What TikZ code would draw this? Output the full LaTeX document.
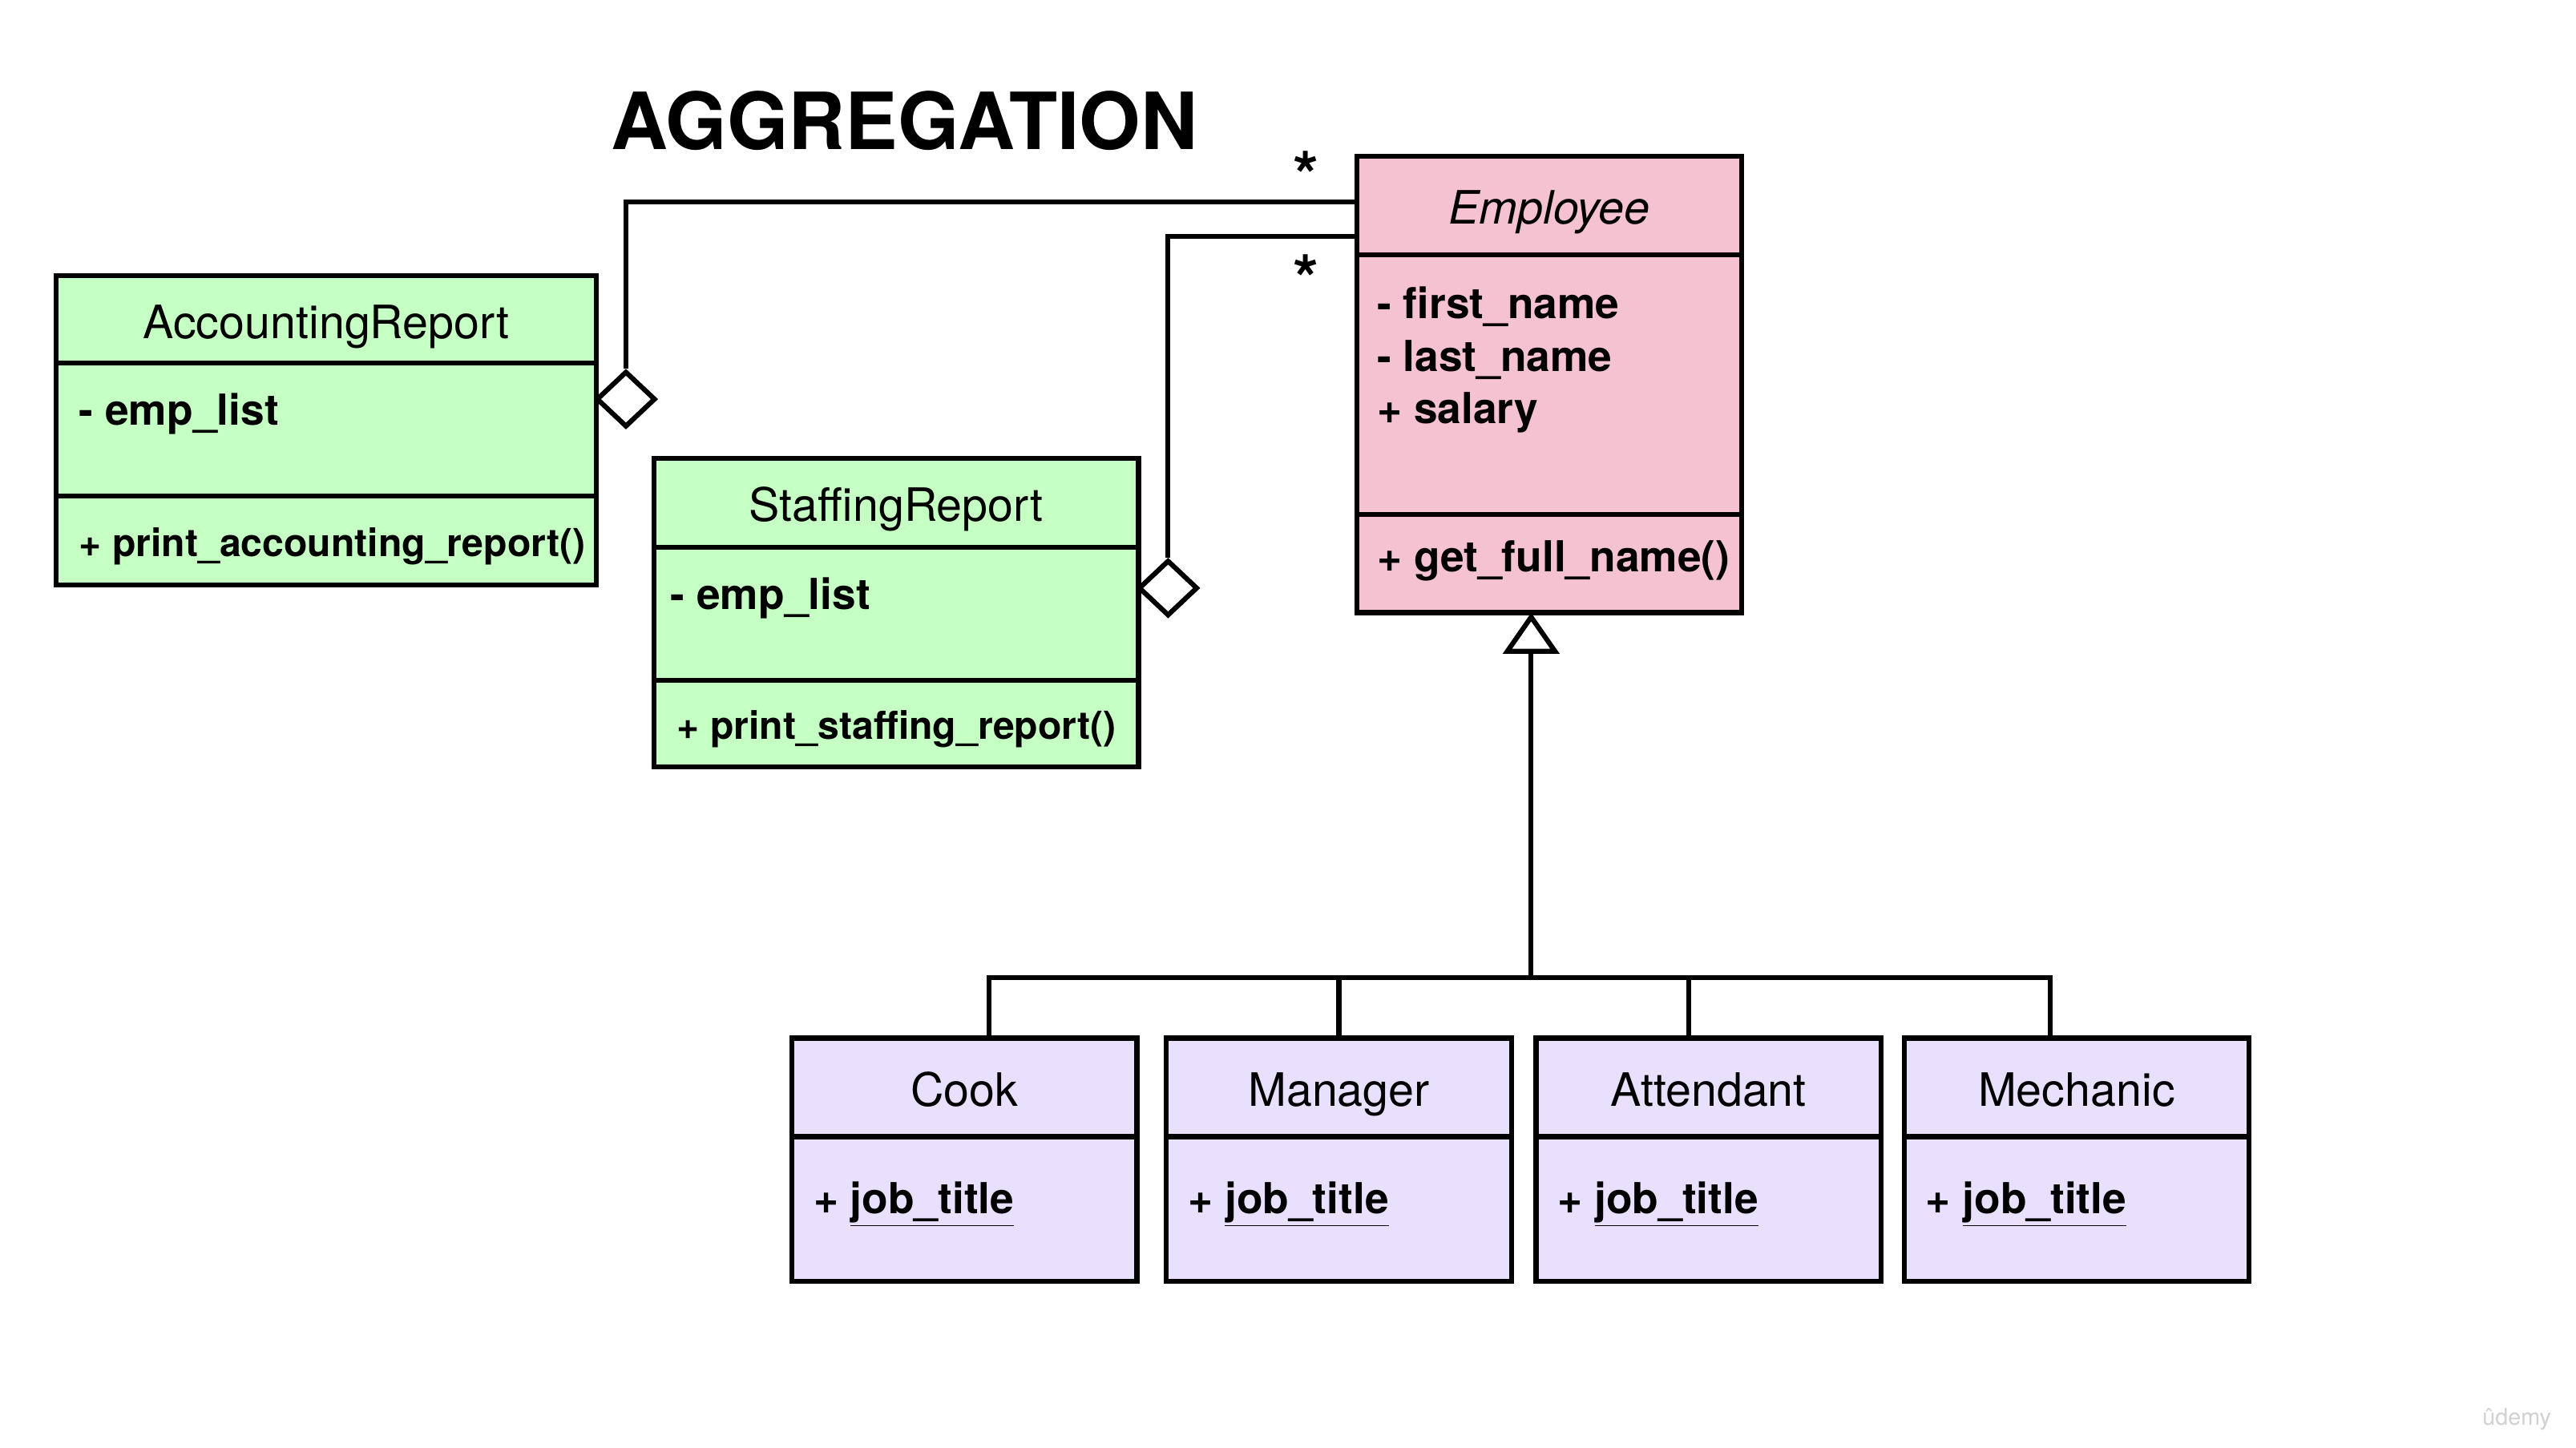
\documentclass[tikz,border=0pt]{standalone}
\usepackage{fontspec}
\setmainfont{TeX Gyre Heros}
\usetikzlibrary{positioning,shapes.geometric,arrows.meta}
\definecolor{reportgreen}{RGB}{198,255,196}
\definecolor{employeepink}{RGB}{244,194,208}
\definecolor{jobviolet}{RGB}{232,224,252}

\begin{document}
\begin{tikzpicture}[x=1pt,y=-1pt,
		box/.style={draw, line width=3pt, outer sep=0pt, inner sep=0pt},
		report/.style={box, fill=reportgreen},
		emp/.style={box, fill=employeepink},
		job/.style={box, fill=jobviolet},
		head/.style={text height=26pt, text depth=3pt, font=\fontsize{28}{34}\selectfont},
		attr/.style={anchor=base west, inner sep=0pt, font=\fontsize{26}{32}\selectfont\bfseries},
		op/.style={attr, font=\fontsize{23.5}{28}\selectfont\bfseries},
		mult/.style={anchor=base, inner sep=0pt, font=\fontsize{40}{40}\selectfont\bfseries},
		agg/.style={diamond, draw, fill=white, line width=3pt, inner sep=0pt, minimum width=36pt, minimum height=34pt},
		conn/.style={draw, line width=3pt}
	]
	\path[fill=white, use as bounding box] (0,0) rectangle (1568,881.1);

	\node[anchor=base west, inner sep=0pt, font=\fontsize{48}{56}\selectfont\bfseries] (title) at (372,91) {AGGREGATION};

	% AccountingReport
	\node[report, head, minimum width=329pt, minimum height=53pt, anchor=north west] (acc) at (34,168) {AccountingReport};
	\node[report, minimum width=329pt, minimum height=81pt, below=0pt of acc] (acc-attr) {};
	\node[report, minimum width=329pt, minimum height=54pt, below=0pt of acc-attr] (acc-op) {};
	\node[attr] (acc-list) at (48,259) {- emp\_list};
	\node[op] (acc-print) at (48,339) {+ print\_accounting\_report()};

	% StaffingReport
	\node[report, head, minimum width=295pt, minimum height=54pt, anchor=north west] (staff) at (398,279) {StaffingReport};
	\node[report, minimum width=295pt, minimum height=81pt, below=0pt of staff] (staff-attr) {};
	\node[report, minimum width=295pt, minimum height=53pt, below=0pt of staff-attr] (staff-op) {};
	\node[attr] (staff-list) at (408,371) {- emp\_list};
	\node[op] (staff-print) at (412,450) {+ print\_staffing\_report()};

	% Employee
	\node[emp, head, font=\fontsize{28}{34}\selectfont\itshape, minimum width=234pt, minimum height=60pt, anchor=north west] (emp) at (826,95) {Employee};
	\node[emp, minimum width=234pt, minimum height=158pt, below=0pt of emp] (emp-attr) {};
	\node[emp, minimum width=234pt, minimum height=60pt, below=0pt of emp-attr] (emp-op) {};
	\foreach \txt [count=\i] in {- first\_name, - last\_name, + salary}
		\node[attr] (emp-field\i) at (838,162+32*\i) {\txt};
	\node[attr] (emp-name) at (838,348) {+ get\_full\_name()};

	% aggregation
	\node[agg] (acc-agg) at (381,243) {};
	\node[agg] (staff-agg) at (711,358) {};
	\draw[conn] ([yshift=2pt]emp.west) -| (acc-agg.north);
	\draw[conn] ([yshift=11pt]emp.south west) -| (staff-agg.north);
	\node[mult] (acc-mult) at (795,121) {*};
	\node[mult] (staff-mult) at (795,184) {*};

	% subclasses
	\coordinate (hub) at (932,595);
	\draw[conn, -{Triangle[open, width=34pt, length=25pt]}] (hub) -- (hub |- emp-op.south);
	\foreach \cls/\txt/\x/\dx in {cook/Cook/482/15, manager/Manager/710/0, attendant/Attendant/935/-12, mechanic/Mechanic/1159/-16} {
		\node[job, head, minimum width=210pt, minimum height=60pt, anchor=north west] (\cls) at (\x,632) {\txt};
		\node[job, minimum width=210pt, minimum height=88pt, below=0pt of \cls] (\cls-attr) {};
		\node[attr] (\cls-title) at (\x+13,739) {+ \underline{job\_title}};
		\draw[conn] (hub) -| ([xshift=\dx pt]\cls.north);
	}

	\node[font=\fontsize{14}{16}\selectfont, text=black!18] (udemy) at (1532,864) {ûdemy};
\end{tikzpicture}
\end{document}
